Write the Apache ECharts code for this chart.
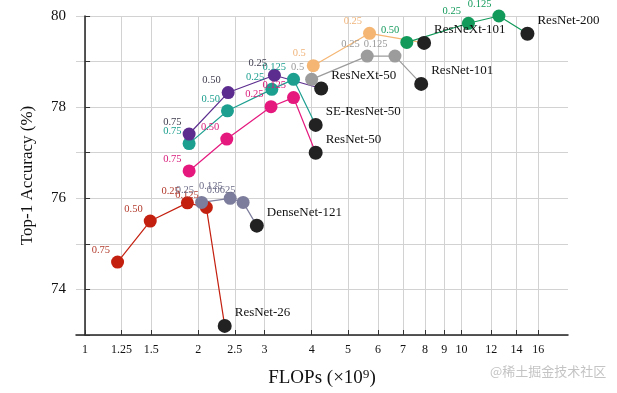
<!DOCTYPE html>
<html>
<head>
<meta charset="utf-8">
<script src="https://cdn.jsdelivr.net/npm/echarts@6/dist/echarts.min.js"></script>
<style>html,body{margin:0;padding:0;background:#fff;}#c{width:617px;height:393px;}</style>
</head>
<body>
<div id="c"></div>
<script>
// ---- data ----
const xTicks = [1, 1.25, 1.5, 2, 2.5, 3, 4, 5, 6, 7, 8, 9, 10, 12, 14, 16];
const yTicks = [74, 76, 78, 80];

const resnet26Flops = [1.22, 1.49, 1.87, 2.10, 2.35];
const resnet26Acc = [74.6, 75.5, 75.9, 75.8, 73.2];
const resnet26Labels = ['0.75', '0.50', '0.25', '0.125', 'ResNet-26'];

const densenetFlops = [2.04, 2.43, 2.63, 2.86];
const densenetAcc = [75.91, 76.0, 75.91, 75.4];
const densenetLabels = ['0.25', '0.125', '0.0625', 'DenseNet-121'];

const resnet50Flops = [1.89, 2.38, 3.12, 3.58, 4.10];
const resnet50Acc = [76.6, 77.3, 78.01, 78.21, 77.0];
const resnet50Labels = ['0.75', '0.50', '0.25', '0.125', 'ResNet-50'];

const seresnet50Flops = [1.89, 2.39, 3.135, 3.58, 4.10];
const seresnet50Acc = [77.2, 77.92, 78.39, 78.61, 77.61];
const seresnet50Labels = ['0.75', '0.50', '0.25', '0.125', 'SE-ResNet-50'];

const resnext50Flops = [1.89, 2.40, 3.185, 4.24];
const resnext50Acc = [77.41, 78.32, 78.7, 78.41];
const resnext50Labels = ['0.75', '0.50', '0.25', 'ResNeXt-50'];

const resnet101Flops = [4.0, 5.62, 6.66, 7.82];
const resnet101Acc = [78.61, 79.12, 79.12, 78.51];
const resnet101Labels = ['0.5', '0.25', '0.125', 'ResNet-101'];

const resnext101Flops = [4.04, 5.70, 7.96];
const resnext101Acc = [78.91, 79.62, 79.41];
const resnext101Labels = ['0.5', '0.25', 'ResNeXt-101'];

const resnet200Flops = [7.16, 10.44, 12.58, 14.98];
const resnet200Acc = [79.42, 79.84, 80.0, 79.61];
const resnet200Labels = ['0.50', '0.25', '0.125', 'ResNet-200'];

// ---- chart ----
const SERIF = "'Liberation Serif', 'DejaVu Serif', serif";
const xMin = 0.946, xMax = 19.2;
const lg = v => Math.log(v);

function mk(flops, acc, labels, color, labelColor) {
  const n = flops.length;
  return {
    type: 'line',
    clip: false,
    symbol: 'circle',
    symbolSize: 13,
    lineStyle: { color: color, width: 1.2 },
    itemStyle: { color: color },
    label: {
      show: true,
      formatter: p => p.name,
      fontFamily: SERIF
    },
    data: flops.map((f, i) => {
      const base = i === n - 1;
      return {
        value: [lg(f), acc[i]],
        name: labels[i],
        symbolSize: base ? 14 : 13,
        itemStyle: { color: base ? '#222222' : color },
        label: base ? {
          position: 'right', distance: 3, offset: [0, -13],
          color: '#111', fontSize: 13, fontFamily: SERIF
        } : {
          position: 'left', distance: 1, offset: [0, -12],
          color: labelColor, fontSize: 10.5, fontFamily: SERIF
        }
      };
    })
  };
}

const chart = echarts.init(document.getElementById('c'));
chart.setOption({
  animation: false,
  backgroundColor: '#ffffff',
  grid: { left: 76, right: 49, top: 16, bottom: 55 },
  xAxis: {
    type: 'value',
    min: lg(xMin),
    max: lg(xMax),
    name: 'FLOPs (×10⁹)',
    nameLocation: 'middle',
    nameGap: 34,
    nameTextStyle: { fontFamily: SERIF, fontSize: 19, color: '#111' },
    axisLine: { show: true, onZero: false, lineStyle: { color: '#222', width: 1.5 } },
    axisTick: { show: true, inside: true, length: 5, customValues: xTicks.map(lg), lineStyle: { color: '#333' } },
    axisLabel: {
      customValues: xTicks.map(lg),
      formatter: v => {
        const t = xTicks.find(x => Math.abs(lg(x) - v) < 1e-6);
        return t === undefined ? '' : String(t);
      },
      fontFamily: SERIF, fontSize: 12, color: '#111', margin: 9
    },
    splitLine: { show: true, lineStyle: { color: '#d2d2d2', width: 1 } }
  },
  yAxis: {
    type: 'value',
    min: 73,
    max: 80,
    interval: 1,
    name: 'Top-1 Accuracy (%)',
    nameLocation: 'middle',
    nameGap: 40,
    nameTextStyle: { fontFamily: SERIF, fontSize: 17, color: '#111' },
    axisLine: { show: true, lineStyle: { color: '#222', width: 1.5 } },
    axisTick: { show: true, inside: true, length: 5, lineStyle: { color: '#333' } },
    axisLabel: {
      formatter: v => yTicks.indexOf(v) >= 0 ? String(v) : '',
      fontFamily: SERIF, fontSize: 15, color: '#111', margin: 10
    },
    splitLine: { show: true, lineStyle: { color: '#d2d2d2', width: 1 } }
  },
  graphic: [{
    type: 'text', left: 490, top: 365,
    style: { text: '@稀土掘金技术社区', fill: '#c4c4c4', fontSize: 13, fontFamily: "'Noto Sans CJK SC', sans-serif" }
  }],
  series: [
    mk(resnet26Flops, resnet26Acc, resnet26Labels, '#c42010', '#b23a2c'),
    mk(densenetFlops, densenetAcc, densenetLabels, '#7c7c9c', '#6c6c88'),
    mk(resnet50Flops, resnet50Acc, resnet50Labels, '#e5187e', '#d81b7a'),
    mk(seresnet50Flops, seresnet50Acc, seresnet50Labels, '#1d9f90', '#1a9e8e'),
    mk(resnext50Flops, resnext50Acc, resnext50Labels, '#5c2d8e', '#403c4e'),
    mk(resnet101Flops, resnet101Acc, resnet101Labels, '#9c9c9c', '#9a9a9a'),
    mk(resnext101Flops, resnext101Acc, resnext101Labels, '#f5b673', '#f0b47a'),
    mk(resnet200Flops, resnet200Acc, resnet200Labels, '#119a5a', '#149a5c')
  ]
});
</script>
</body>
</html>
